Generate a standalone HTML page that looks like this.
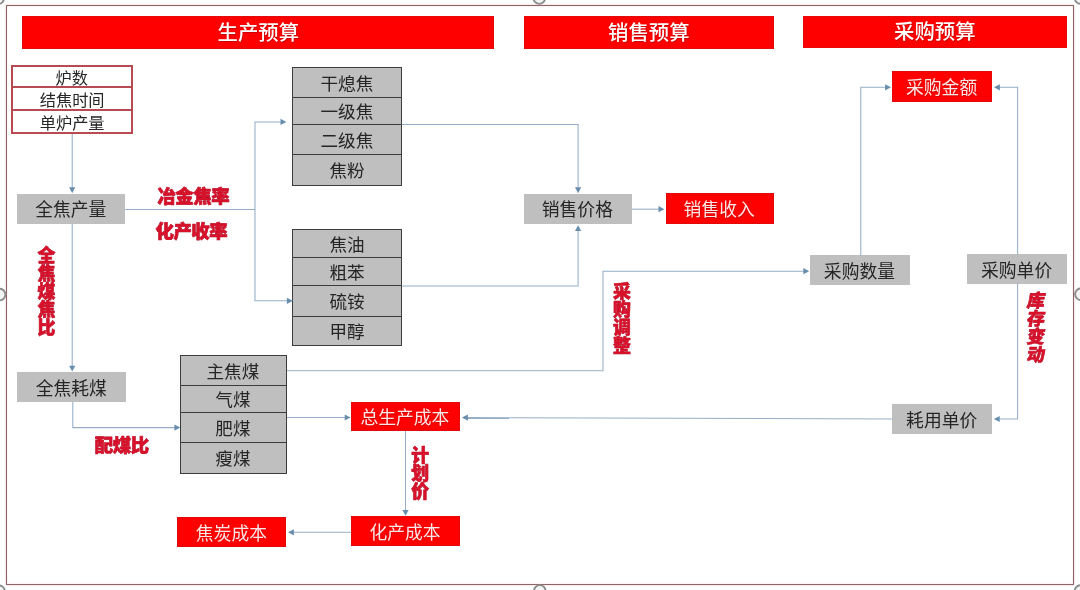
<!DOCTYPE html>
<html lang="zh-CN"><head><meta charset="utf-8"><title>预算流程图</title><style>
html,body{margin:0;padding:0;background:#fdfefe}
body{width:1080px;height:590px;position:relative;overflow:hidden;font-family:"Liberation Sans",sans-serif}
div{box-sizing:border-box}
.frame,.bar,.gbox,.rbox,.lbl,.wbox,.tbl,.wdiv,.tdiv{position:absolute}
.frame{border:1px solid #8e6668;background:#fff;box-shadow:0 0 1.5px rgba(225,120,120,.5),inset 0 0 1.5px rgba(225,120,120,.4)}
.bar{background:#fe0000;border:1px solid #e20a0a;color:transparent;font-size:20px;text-align:center;line-height:32px;overflow:hidden}
.gbox{background:#bfbfbf;color:transparent;font-size:17px;text-align:center;line-height:29px;overflow:hidden}
.rbox{background:#fe0000;border:1px solid #e20a0a;color:transparent;font-size:17px;text-align:center;line-height:29px;overflow:hidden}
.wbox{border:2px solid #b84a53;background:#fff;overflow:hidden}
.wrow{color:transparent;font-size:16px;text-align:center;overflow:hidden}
.wdiv{background:#b84a53}
.tbl{border:1px solid #3c3c3c;background:#bfbfbf;overflow:hidden}
.trow{color:transparent;font-size:17px;text-align:center;overflow:hidden}
.tdiv{background:#3c3c3c}
.lbl{color:transparent;font-size:17px;font-weight:bold;text-align:center;line-height:20px;overflow:hidden;white-space:nowrap}
.lbl.v{writing-mode:vertical-rl;line-height:20px}
.lbl.i{font-style:italic}
svg{position:absolute;left:0;top:0}
svg text{font-family:"Liberation Sans","Noto Sans CJK SC",sans-serif}
</style></head><body>
<div class="frame" style="left:5.9px;top:5px;width:1068.3px;height:579.8px;"></div>
<div class="bar" style="left:22.2px;top:16.4px;width:472.2px;height:32.8px;">生产预算</div>
<div class="bar" style="left:524px;top:16.4px;width:249.6px;height:32.7px;">销售预算</div>
<div class="bar" style="left:802.6px;top:15.8px;width:264.5px;height:32.4px;">采购预算</div>
<div class="wbox" style="left:11px;top:65px;width:122.2px;height:69.2px">
<div class="wrow" style="height:22.2px;line-height:22.2px">炉数</div>
<div class="wrow" style="height:22.5px;line-height:22.5px">结焦时间</div>
<div class="wrow" style="height:24.5px;line-height:24.5px">单炉产量</div>
</div>
<div class="wdiv" style="left:11px;top:86.2px;width:122.2px;height:2px;"></div>
<div class="wdiv" style="left:11px;top:108.7px;width:122.2px;height:2px;"></div>
<div class="tbl" style="left:292.1px;top:67px;width:110px;height:118.6px">
<div class="trow" style="height:29.9px;line-height:29.9px">干熄焦</div>
<div class="trow" style="height:26.9px;line-height:26.9px">一级焦</div>
<div class="trow" style="height:30px;line-height:30px">二级焦</div>
<div class="trow" style="height:30.8px;line-height:30.8px">焦粉</div>
</div>
<div class="tdiv" style="left:292.6px;top:96.9px;width:109px;height:1px;"></div>
<div class="tdiv" style="left:292.6px;top:123.8px;width:109px;height:1px;"></div>
<div class="tdiv" style="left:292.6px;top:153.8px;width:109px;height:1px;"></div>
<div class="tbl" style="left:292.1px;top:228.5px;width:110px;height:117.4px">
<div class="trow" style="height:28.9px;line-height:28.9px">焦油</div>
<div class="trow" style="height:27.7px;line-height:27.7px">粗苯</div>
<div class="trow" style="height:30.4px;line-height:30.4px">硫铵</div>
<div class="trow" style="height:29.4px;line-height:29.4px">甲醇</div>
</div>
<div class="tdiv" style="left:292.6px;top:257.4px;width:109px;height:1px;"></div>
<div class="tdiv" style="left:292.6px;top:285.1px;width:109px;height:1px;"></div>
<div class="tdiv" style="left:292.6px;top:315.5px;width:109px;height:1px;"></div>
<div class="tbl" style="left:180.4px;top:355px;width:106.9px;height:118.5px">
<div class="trow" style="height:29.5px;line-height:29.5px">主焦煤</div>
<div class="trow" style="height:27.8px;line-height:27.8px">气煤</div>
<div class="trow" style="height:29.4px;line-height:29.4px">肥煤</div>
<div class="trow" style="height:30.8px;line-height:30.8px">瘦煤</div>
</div>
<div class="tdiv" style="left:180.9px;top:384.5px;width:105.9px;height:1px;"></div>
<div class="tdiv" style="left:180.9px;top:412.3px;width:105.9px;height:1px;"></div>
<div class="tdiv" style="left:180.9px;top:441.7px;width:105.9px;height:1px;"></div>
<div class="gbox" style="left:17.3px;top:193.5px;width:108px;height:30.5px;">全焦产量</div>
<div class="gbox" style="left:17px;top:372px;width:109.4px;height:30px;">全焦耗煤</div>
<div class="gbox" style="left:524px;top:193.5px;width:107.7px;height:30.5px;">销售价格</div>
<div class="gbox" style="left:809.8px;top:255px;width:100.2px;height:30.2px;">采购数量</div>
<div class="gbox" style="left:967.2px;top:254px;width:99.8px;height:29.9px;">采购单价</div>
<div class="gbox" style="left:892.2px;top:404.2px;width:99.9px;height:29.9px;">耗用单价</div>
<div class="rbox" style="left:892px;top:71.2px;width:100.2px;height:30.5px;">采购金额</div>
<div class="rbox" style="left:665.5px;top:193.4px;width:108.3px;height:30.4px;">销售收入</div>
<div class="rbox" style="left:351px;top:402.2px;width:109px;height:29.2px;">总生产成本</div>
<div class="rbox" style="left:351px;top:516.2px;width:109.1px;height:29.8px;">化产成本</div>
<div class="rbox" style="left:177.4px;top:517px;width:109px;height:30px;">焦炭成本</div>
<div class="lbl" style="left:156.375px;top:185.9px;width:74.25px;height:20px;">冶金焦率</div>
<div class="lbl" style="left:154.475px;top:220.6px;width:74.25px;height:20px;">化产收率</div>
<div class="lbl" style="left:93.85px;top:435.5px;width:56.3px;height:20px;">配煤比</div>
<div class="lbl v" style="left:36.5px;top:247px;width:20px;height:89.2px;">全焦煤焦比</div>
<div class="lbl v" style="left:612px;top:282.3px;width:20px;height:72px;">采购调整</div>
<div class="lbl v" style="left:410.1px;top:446.4px;width:20px;height:54.2px;">计划价</div>
<div class="lbl v i" style="left:1026.2px;top:291.8px;width:20px;height:71.4px;">库存变动</div>
<svg width="1080" height="590" viewBox="0 0 1080 590"><g fill="none" stroke="#94aec7" stroke-width="1.05"><path d="M72.2 134 L72.2 190"/><path d="M72.2 224 L72.2 368"/><path d="M125.3 209.5 L255 209.5"/><path d="M281 121.9 L255 121.9 L255 300.8 L288 300.8"/><path d="M401.8 124.4 L578.1 124.4 L578.1 189"/><path d="M401.8 286 L578.1 286 L578.1 230"/><path d="M631.6 209.2 L659 209.2"/><path d="M287 370.8 L603 370.8 L603 271.2 L804 271.2"/><path d="M860.8 255.4 L860.8 87.3 L886 87.3"/><path d="M1017.6 254.4 L1017.6 87.3 L999 87.3"/><path d="M1017.6 283.3 L1017.6 419 L999 419"/><path d="M892.3 419 L467 417.6"/><path d="M287 417.5 L346 417.5"/><path d="M405.5 431 L405.5 511"/><path d="M351 532.3 L293 532.3"/><path d="M72.8 402 L72.8 427.6 L175 427.6"/></g><g fill="#698dad"><polygon points="72.2,193.2 69.1,187.3 75.3,187.3"/><polygon points="72.2,371.6 69.1,365.7 75.3,365.7"/><polygon points="286.4,121.9 280.5,118.8 280.5,125"/><polygon points="292.8,300.8 286.9,297.7 286.9,303.9"/><polygon points="578.1,193.2 575,187.3 581.2,187.3"/><polygon points="578.1,225.2 575,231.1 581.2,231.1"/><polygon points="664.4,209.2 658.5,206.1 658.5,212.3"/><polygon points="809.2,271.2 803.3,268.1 803.3,274.3"/><polygon points="891,87.3 885.1,84.2 885.1,90.4"/><polygon points="994,87.3 999.9,84.2 999.9,90.4"/><polygon points="993.8,419 999.7,415.9 999.7,422.1"/><polygon points="462,417.6 467.9,414.5 467.9,420.7"/><polygon points="350.6,417.5 344.7,414.4 344.7,420.6"/><polygon points="405.5,515.8 402.4,509.9 408.6,509.9"/><polygon points="288,532.3 293.9,529.2 293.9,535.4"/><polygon points="180.3,427.6 174.4,424.5 174.4,430.7"/></g><g fill="#f3f5f5" stroke="#8c8c8c" stroke-width="1.9"><circle cx="-1.8" cy="-1.8" r="5.8"/><circle cx="539.3" cy="-1.9" r="5.8"/><circle cx="1080.5" cy="-2" r="5.8"/><circle cx="-0.4" cy="294.6" r="5.8"/><circle cx="1080.9" cy="294.2" r="5.8"/><circle cx="-1" cy="591.2" r="5.8"/><circle cx="539.8" cy="590.9" r="5.8"/><circle cx="1080.5" cy="591" r="5.8"/></g><g style="filter:blur(0.3px)">
<g font-size="20.4" font-weight="500">
<text x="218.3" y="41.05" fill="#9c0000" opacity="0.5">生产预算</text>
<text x="217.5" y="40.25" fill="#fff">生产预算</text>
<text x="608.8" y="41" fill="#9c0000" opacity="0.5">销售预算</text>
<text x="608" y="40.2" fill="#fff">销售预算</text>
<text x="894.85" y="40.25" fill="#9c0000" opacity="0.5">采购预算</text>
<text x="894.05" y="39.45" fill="#fff">采购预算</text>
</g>
<g font-size="16.2" fill="#262626">
<text x="55.6" y="83.76">炉数</text>
<text x="39.8" y="105.81">结焦时间</text>
<text x="39.8" y="128.91">单炉产量</text>
</g>
<g font-size="17.6" fill="#262626">
<text x="320.5" y="90.04">干熄焦</text>
<text x="320.5" y="118.44">一级焦</text>
<text x="320.5" y="146.89">二级焦</text>
<text x="329.4" y="177.29">焦粉</text>
<text x="329.4" y="251.04">焦油</text>
<text x="329.4" y="279.34">粗苯</text>
<text x="329.4" y="308.39">硫铵</text>
<text x="329.4" y="338.29">甲醇</text>
<text x="206.45" y="377.84">主焦煤</text>
<text x="215.35" y="406.49">气煤</text>
<text x="215.35" y="435.09">肥煤</text>
<text x="215.35" y="465.19">瘦煤</text>
</g>
<g font-size="17.8" fill="#262626">
<text x="35.25" y="216.41">全焦产量</text>
<text x="35.65" y="394.66">全焦耗煤</text>
<text x="541.8" y="216.41">销售价格</text>
<text x="823.85" y="277.76">采购数量</text>
<text x="981.05" y="276.61">采购单价</text>
<text x="906.1" y="426.81">耗用单价</text>
</g>
<g font-size="17.8">
<text x="906.75" y="94.81" fill="#9c0000" opacity="0.45">采购金额</text>
<text x="906.05" y="94.11" fill="#ffe6e6">采购金额</text>
<text x="684.3" y="216.96" fill="#9c0000" opacity="0.45">销售收入</text>
<text x="683.6" y="216.26" fill="#ffe6e6">销售收入</text>
<text x="361.1" y="425.16" fill="#9c0000" opacity="0.45">总生产成本</text>
<text x="360.4" y="424.46" fill="#ffe6e6">总生产成本</text>
<text x="370.2" y="539.46" fill="#9c0000" opacity="0.45">化产成本</text>
<text x="369.5" y="538.76" fill="#ffe6e6">化产成本</text>
<text x="196.55" y="540.36" fill="#9c0000" opacity="0.45">焦炭成本</text>
<text x="195.85" y="539.66" fill="#ffe6e6">焦炭成本</text>
</g>
<g font-size="18.4" font-weight="900" fill="#d8112b" stroke="#a80e25" stroke-width="0.66" stroke-linejoin="round" paint-order="stroke" letter-spacing="-0.45">
<text x="157.38" y="202.89">冶金焦率</text>
<text x="155.47" y="237.59">化产收率</text>
<text x="94.85" y="452.49">配煤比</text>
</g>
<g font-size="17.9" font-weight="900" fill="#d8112b" stroke="#a80e25" stroke-width="0.64" stroke-linejoin="round" paint-order="stroke">
<text><tspan x="37.55" y="262.42">全</tspan><tspan x="37.55" y="280.26">焦</tspan><tspan x="37.55" y="298.1">煤</tspan><tspan x="37.55" y="315.94">焦</tspan><tspan x="37.55" y="333.78">比</tspan></text>
<text><tspan x="613.05" y="297.8">采</tspan><tspan x="613.05" y="315.8">购</tspan><tspan x="613.05" y="333.8">调</tspan><tspan x="613.05" y="351.8">整</tspan></text>
<text><tspan x="411.15" y="461.94">计</tspan><tspan x="411.15" y="480">划</tspan><tspan x="411.15" y="498.07">价</tspan></text>
<text transform="translate(1026.35 307.23) skewX(-9)">库</text>
<text transform="translate(1026.35 325.08) skewX(-9)">存</text>
<text transform="translate(1026.35 342.93) skewX(-9)">变</text>
<text transform="translate(1026.35 360.78) skewX(-9)">动</text>
</g>
</g></svg>
</body></html>
